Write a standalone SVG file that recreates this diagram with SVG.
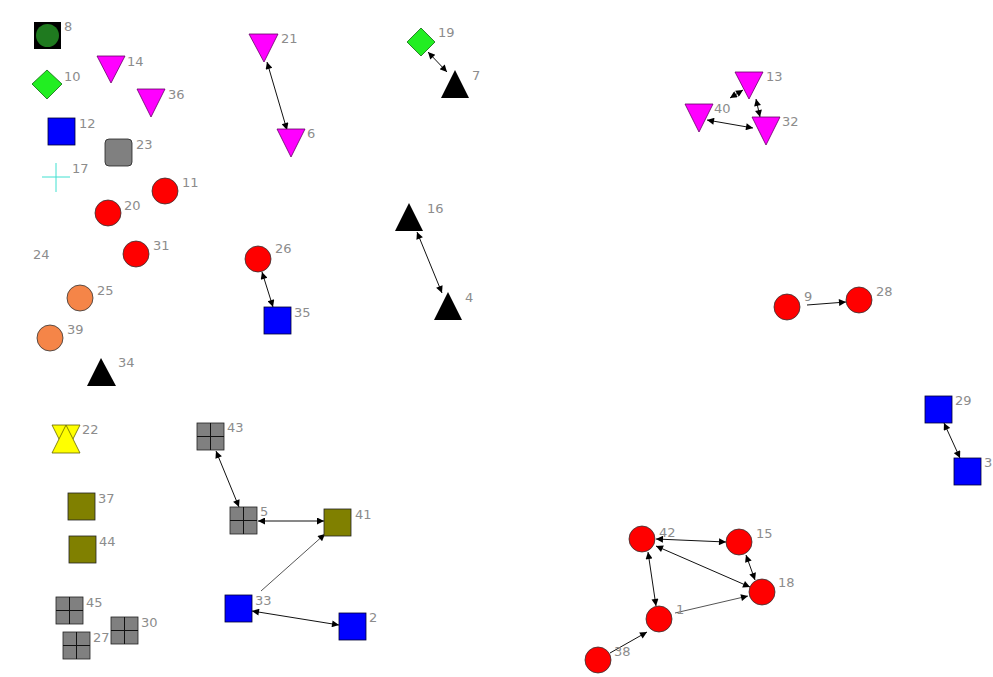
<svg xmlns="http://www.w3.org/2000/svg" width="993" height="677" viewBox="0 0 993 677">
<defs>
<style>
text{font-family:"DejaVu Sans","Liberation Sans",sans-serif;font-size:13px;fill:#8c8c8c}
.c{stroke:#333;stroke-width:0.8}
.red{fill:#ff0000}
.org{fill:#f58548}
.blu{fill:#0000ff;stroke:#000033;stroke-width:0.8}
.olv{fill:#808000;stroke:#222;stroke-width:0.8}
.gry{fill:#808080;stroke:#222;stroke-width:0.8}
.mag{fill:#ff00ff;stroke:#660066;stroke-width:0.8}
.grn{fill:#22ee22;stroke:#116611;stroke-width:0.8}
.blk{fill:#000}
.e{stroke:#111;stroke-width:1;fill:none}
.e2{stroke:#555;stroke-width:1;fill:none}
.x{stroke:#111;stroke-width:1}
</style>
<marker id="a" viewBox="0 0 10 10" refX="10" refY="5" markerWidth="9" markerHeight="7" markerUnits="userSpaceOnUse" orient="auto-start-reverse">
<path d="M0,0 L10,5 L0,10 z" fill="#000"/>
</marker>
</defs>
<rect width="993" height="677" fill="#fff"/>
<g id="connectors">
<line class="e" x1="267" y1="62" x2="287" y2="130" marker-start="url(#a)" marker-end="url(#a)"/>
<line class="e" x1="428" y1="52" x2="447" y2="72" marker-start="url(#a)" marker-end="url(#a)"/>
<line class="e" x1="743" y1="90" x2="730" y2="98" marker-start="url(#a)" marker-end="url(#a)"/>
<line class="e" x1="756" y1="99" x2="760" y2="117" marker-start="url(#a)" marker-end="url(#a)"/>
<line class="e" x1="707" y1="120" x2="753" y2="128" marker-start="url(#a)" marker-end="url(#a)"/>
<line class="e" x1="417" y1="232" x2="442" y2="293" marker-start="url(#a)" marker-end="url(#a)"/>
<line class="e" x1="262" y1="272" x2="273" y2="307" marker-start="url(#a)" marker-end="url(#a)"/>
<line class="e" x1="807" y1="305" x2="846" y2="302" marker-end="url(#a)"/>
<line class="e" x1="944" y1="423" x2="960" y2="458" marker-start="url(#a)" marker-end="url(#a)"/>
<line class="e" x1="216" y1="451" x2="239" y2="507" marker-start="url(#a)" marker-end="url(#a)"/>
<line class="e" x1="258" y1="521" x2="324" y2="521" marker-start="url(#a)" marker-end="url(#a)"/>
<line class="e2" x1="261" y1="591" x2="325" y2="534" marker-end="url(#a)"/>
<line class="e" x1="252" y1="611" x2="339" y2="625" marker-start="url(#a)" marker-end="url(#a)"/>
<line class="e" x1="656" y1="539" x2="726" y2="542" marker-start="url(#a)" marker-end="url(#a)"/>
<line class="e" x1="656" y1="546" x2="750" y2="587" marker-start="url(#a)" marker-end="url(#a)"/>
<line class="e" x1="746" y1="555" x2="755" y2="580" marker-start="url(#a)" marker-end="url(#a)"/>
<line class="e" x1="648" y1="552" x2="656" y2="606" marker-start="url(#a)" marker-end="url(#a)"/>
<line class="e2" x1="675" y1="613" x2="748" y2="596" marker-end="url(#a)"/>
<line class="e" x1="610" y1="653" x2="647" y2="632" marker-end="url(#a)"/>
</g>
<g id="n8"><rect x="34" y="22" width="27" height="27" fill="#000"/><circle cx="47.5" cy="35.5" r="11.5" fill="#1f7a1f"/><text x="64" y="31">8</text></g>
<g id="n10"><polygon class="grn" points="47,70 62,84 47,99 32,84"/><text x="64" y="81">10</text></g>
<g id="n14"><polygon class="mag" points="97,56 125,56 111,83"/><text x="127" y="66">14</text></g>
<g id="n36"><polygon class="mag" points="137,89 165,89 151,117"/><text x="168" y="99">36</text></g>
<g id="n12"><rect class="blu" x="48" y="118" width="27" height="27"/><text x="79" y="128">12</text></g>
<g id="n23"><rect class="gry" x="105" y="139" width="27" height="27" rx="4"/><text x="136" y="149">23</text></g>
<g id="n17"><path d="M42,177 H70 M56,163 V192" stroke="#40e0d0" stroke-width="1"/><text x="72" y="173">17</text></g>
<g id="n11"><circle class="red c" cx="165" cy="191" r="13"/><text x="182" y="187">11</text></g>
<g id="n20"><circle class="red c" cx="108" cy="213" r="13"/><text x="124" y="210">20</text></g>
<g id="n31"><circle class="red c" cx="136" cy="254" r="13"/><text x="153" y="250">31</text></g>
<g id="n24"><text x="33" y="259">24</text></g>
<g id="n25"><circle class="org c" cx="80" cy="298" r="13"/><text x="97" y="295">25</text></g>
<g id="n39"><circle class="org c" cx="50" cy="338" r="13"/><text x="67" y="334">39</text></g>
<g id="n34"><polygon class="blk" points="101,358 116,386 87,386"/><text x="118" y="367">34</text></g>
<g id="n22"><polygon points="52,425 80,425 66,453" fill="#ffff00" stroke="#666600" stroke-width="0.8"/><polygon points="66,425 80,453 52,453" fill="#ffff00" stroke="#666600" stroke-width="0.8"/><text x="82" y="434">22</text></g>
<g id="n37"><rect class="olv" x="68" y="493" width="27" height="27"/><text x="98" y="503">37</text></g>
<g id="n44"><rect class="olv" x="69" y="536" width="27" height="27"/><text x="99" y="546">44</text></g>
<g id="n45"><rect class="gry" x="56" y="597" width="27" height="27"/><path class="x" d="M69.5,597 V624 M56,610.5 H83"/><text x="86" y="607">45</text></g>
<g id="n27"><rect class="gry" x="63" y="632" width="27" height="27"/><path class="x" d="M76.5,632 V659 M63,645.5 H90"/><text x="93" y="642">27</text></g>
<g id="n30"><rect class="gry" x="111" y="617" width="27" height="27"/><path class="x" d="M124.5,617 V644 M111,630.5 H138"/><text x="141" y="627">30</text></g>
<g id="n43"><rect class="gry" x="197" y="423" width="27" height="27"/><path class="x" d="M210.5,423 V450 M197,436.5 H224"/><text x="227" y="432">43</text></g>
<g id="n5"><rect class="gry" x="230" y="507" width="27" height="27"/><path class="x" d="M243.5,507 V534 M230,520.5 H257"/><text x="260" y="516">5</text></g>
<g id="n41"><rect class="olv" x="324" y="509" width="27" height="27"/><text x="355" y="519">41</text></g>
<g id="n33"><rect class="blu" x="225" y="595" width="27" height="27"/><text x="255" y="605">33</text></g>
<g id="n2"><rect class="blu" x="339" y="613" width="27" height="27"/><text x="369" y="622">2</text></g>
<g id="n21"><polygon class="mag" points="249,34 278,34 264,62"/><text x="281" y="43">21</text></g>
<g id="n6"><polygon class="mag" points="277,129 305,129 291,157"/><text x="307" y="138">6</text></g>
<g id="n19"><polygon class="grn" points="421,28 435,42 421,56 407,42"/><text x="438" y="37">19</text></g>
<g id="n7"><polygon class="blk" points="455,70 469,98 441,98"/><text x="472" y="80">7</text></g>
<g id="n16"><polygon class="blk" points="409,203 423,231 395,231"/><text x="427" y="213">16</text></g>
<g id="n4"><polygon class="blk" points="448,292 462,320 434,320"/><text x="465" y="302">4</text></g>
<g id="n26"><circle class="red c" cx="258" cy="259" r="13"/><text x="275" y="253">26</text></g>
<g id="n35"><rect class="blu" x="264" y="307" width="27" height="27"/><text x="294" y="317">35</text></g>
<g id="n13"><polygon class="mag" points="735,72 763,72 749,99"/><text x="766" y="81">13</text></g>
<g id="n40"><polygon class="mag" points="685,104 713,104 699,132"/><text x="714" y="113">40</text></g>
<g id="n32"><polygon class="mag" points="752,117 780,117 766,145"/><text x="782" y="126">32</text></g>
<g id="n9"><circle class="red c" cx="787" cy="307" r="13"/><text x="804" y="301">9</text></g>
<g id="n28"><circle class="red c" cx="859" cy="300" r="13"/><text x="876" y="296">28</text></g>
<g id="n29"><rect class="blu" x="925" y="396" width="27" height="27"/><text x="955" y="405">29</text></g>
<g id="n3"><rect class="blu" x="954" y="458" width="27" height="27"/><text x="984" y="467">3</text></g>
<g id="n42"><circle class="red c" cx="642" cy="539" r="13"/><text x="659" y="537">42</text></g>
<g id="n15"><circle class="red c" cx="739" cy="542" r="13"/><text x="756" y="538">15</text></g>
<g id="n18"><circle class="red c" cx="762" cy="592" r="13"/><text x="778" y="587">18</text></g>
<g id="n1"><circle class="red c" cx="659" cy="619" r="13"/><text x="676" y="614">1</text></g>
<g id="n38"><circle class="red c" cx="598" cy="660" r="13"/><text x="614" y="656">38</text></g>
</svg>
